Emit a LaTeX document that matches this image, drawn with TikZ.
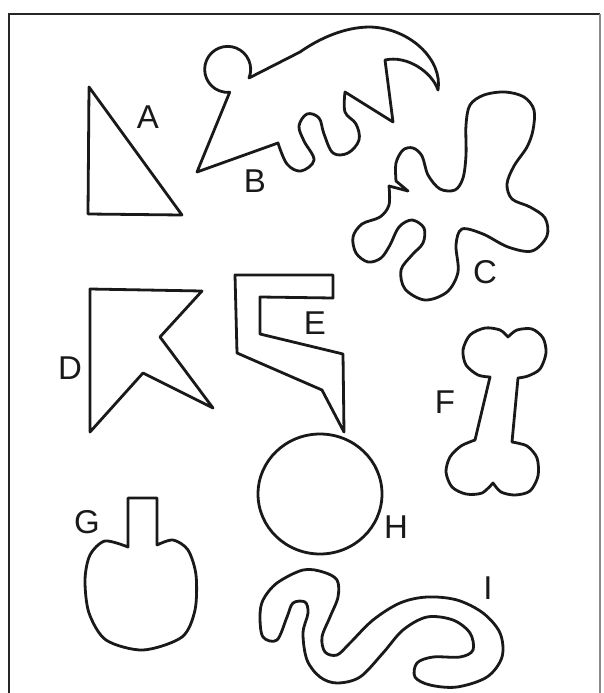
\documentclass[tikz,border=0pt]{standalone}
\usepackage{fontspec}
\setmainfont{Liberation Sans}
\begin{document}
\begin{tikzpicture}[x=1pt,y=-1pt,
  shp/.style={line width=2.8pt, line join=round, line cap=round, black!90},
  lbl/.style={font=\fontsize{33}{33}\selectfont, inner sep=0pt, black!90},
  frm/.style={line width=2.4pt, black!85}]
\useasboundingbox (0,0) rectangle (603,693);
% frame
\coordinate (fl) at (9,693);
\coordinate (ftl) at (9,14);
\coordinate (ftr) at (600,14);
\coordinate (fr) at (600,693);
\draw[frm] (fl) -- (ftl) -- (ftr);
\draw[line width=1.2pt, black!45] (ftr) -- (fr);
% A
\draw[shp] (89,87) -- (88,214) -- (182,215) -- cycle;
\node[lbl] (la) at (148,117) {A};
% B
\draw[shp] (197,172) -- (278,143)
  -- plot[smooth, tension=0.6] coordinates {(278,143) (287,164) (301,171) (314,160) (304,141) (299,126) (307,114) (319,118) (324,134) (333,153) (348,153) (359,140) (356,124) (345,112) (345,92)}
  -- (393,122) -- (385,60)
  .. controls (407,55) and (432,72) .. (438,90)
  .. controls (443,60) and (410,28) .. (370,27)
  .. controls (345,27) and (320,38) .. (300,52)
  -- (249,78) arc[start angle=22, end angle=-275, radius=23] -- cycle;
\node[lbl] (lb) at (255,181) {B};
% C
\draw[shp] plot[smooth, tension=0.55] coordinates {(396,181) (396,163) (403,150) (413,148) (422,156) (428,175) (440,189) (455,190) (463,178) (466,155) (466,125) (470,105) (484,95) (505,92) (524,97) (534,110) (533,130) (527,147) (514,166) (507,184) (512,199) (530,207) (545,218) (547,236) (532,251) (508,247) (483,234) (462,229) (456,245) (458,272) (447,292) (425,300) (405,289) (401,270) (412,255) (423,243) (424,228) (412,220) (399,227) (390,245) (381,258) (368,262) (356,253) (353,237) (362,224) (380,217) (389,205) (389,186)}
  -- (408,191) -- cycle;
\node[lbl] (lc) at (485,272) {C};
% D
\draw[shp] (90,289) -- (202,291) -- (160,337) -- (213,408) -- (143,373) -- (90,432) -- cycle;
\node[lbl] (ld) at (70,368) {D};
% E
\draw[shp] (235,275) -- (333,275) -- (333,298) -- (260,297) -- (260,334) -- (343,354) -- (344,432) -- (322,390) -- (237,353) -- cycle;
\node[lbl] (le) at (315,323) {E};
% F
\draw[shp] (490,377) -- (475,440)
  -- plot[smooth] coordinates {(475,440) (461,446) (450,457) (446,472) (452,487) (466,494) (482,493) (493,483)}
  -- plot[smooth] coordinates {(493,483) (501,492) (515,495) (530,491) (538,476) (537,458) (527,446) (512,442)}
  -- (518,378)
  -- plot[smooth] coordinates {(518,378) (528,376) (540,369) (546,353) (543,338) (532,329) (517,330) (508,337)}
  -- plot[smooth] coordinates {(508,337) (500,330) (485,328) (470,335) (463,350) (466,365) (478,375) (490,377)}
  -- cycle;
\node[lbl] (lf) at (445,402) {F};
% G
\draw[shp] (128,547) -- (128,498) -- (157,498) -- (157,545)
  -- plot[smooth] coordinates {(157,545) (173,540) (188,550) (196,575) (195,610) (182,637) (143,650) (106,640) (89,613) (85,580) (90,555) (105,541) (128,547)}
  -- cycle;
\node[lbl] (lg) at (87,522) {G};
% H
\draw[shp] (320,494) ellipse [x radius=62, y radius=60];
\node[lbl] (lh) at (396,527) {H};
% I
\draw[shp] plot[smooth cycle, tension=0.55] coordinates {(260,617) (263,637) (277,640) (287,617) (293,603) (305,602) (308,613) (303,633) (307,660) (320,677) (337,683) (360,677) (383,653) (403,630) (427,617) (453,620) (470,633) (473,650) (460,657) (433,657) (417,663) (415,677) (430,685) (457,687) (487,677) (502,657) (500,633) (483,613) (457,600) (427,597) (400,603) (373,620) (350,643) (337,655) (325,652) (322,637) (330,617) (338,597) (337,580) (323,572) (303,570) (277,583) (263,600)};
\node[lbl] (li) at (488,588) {I};
\end{tikzpicture}
\end{document}
